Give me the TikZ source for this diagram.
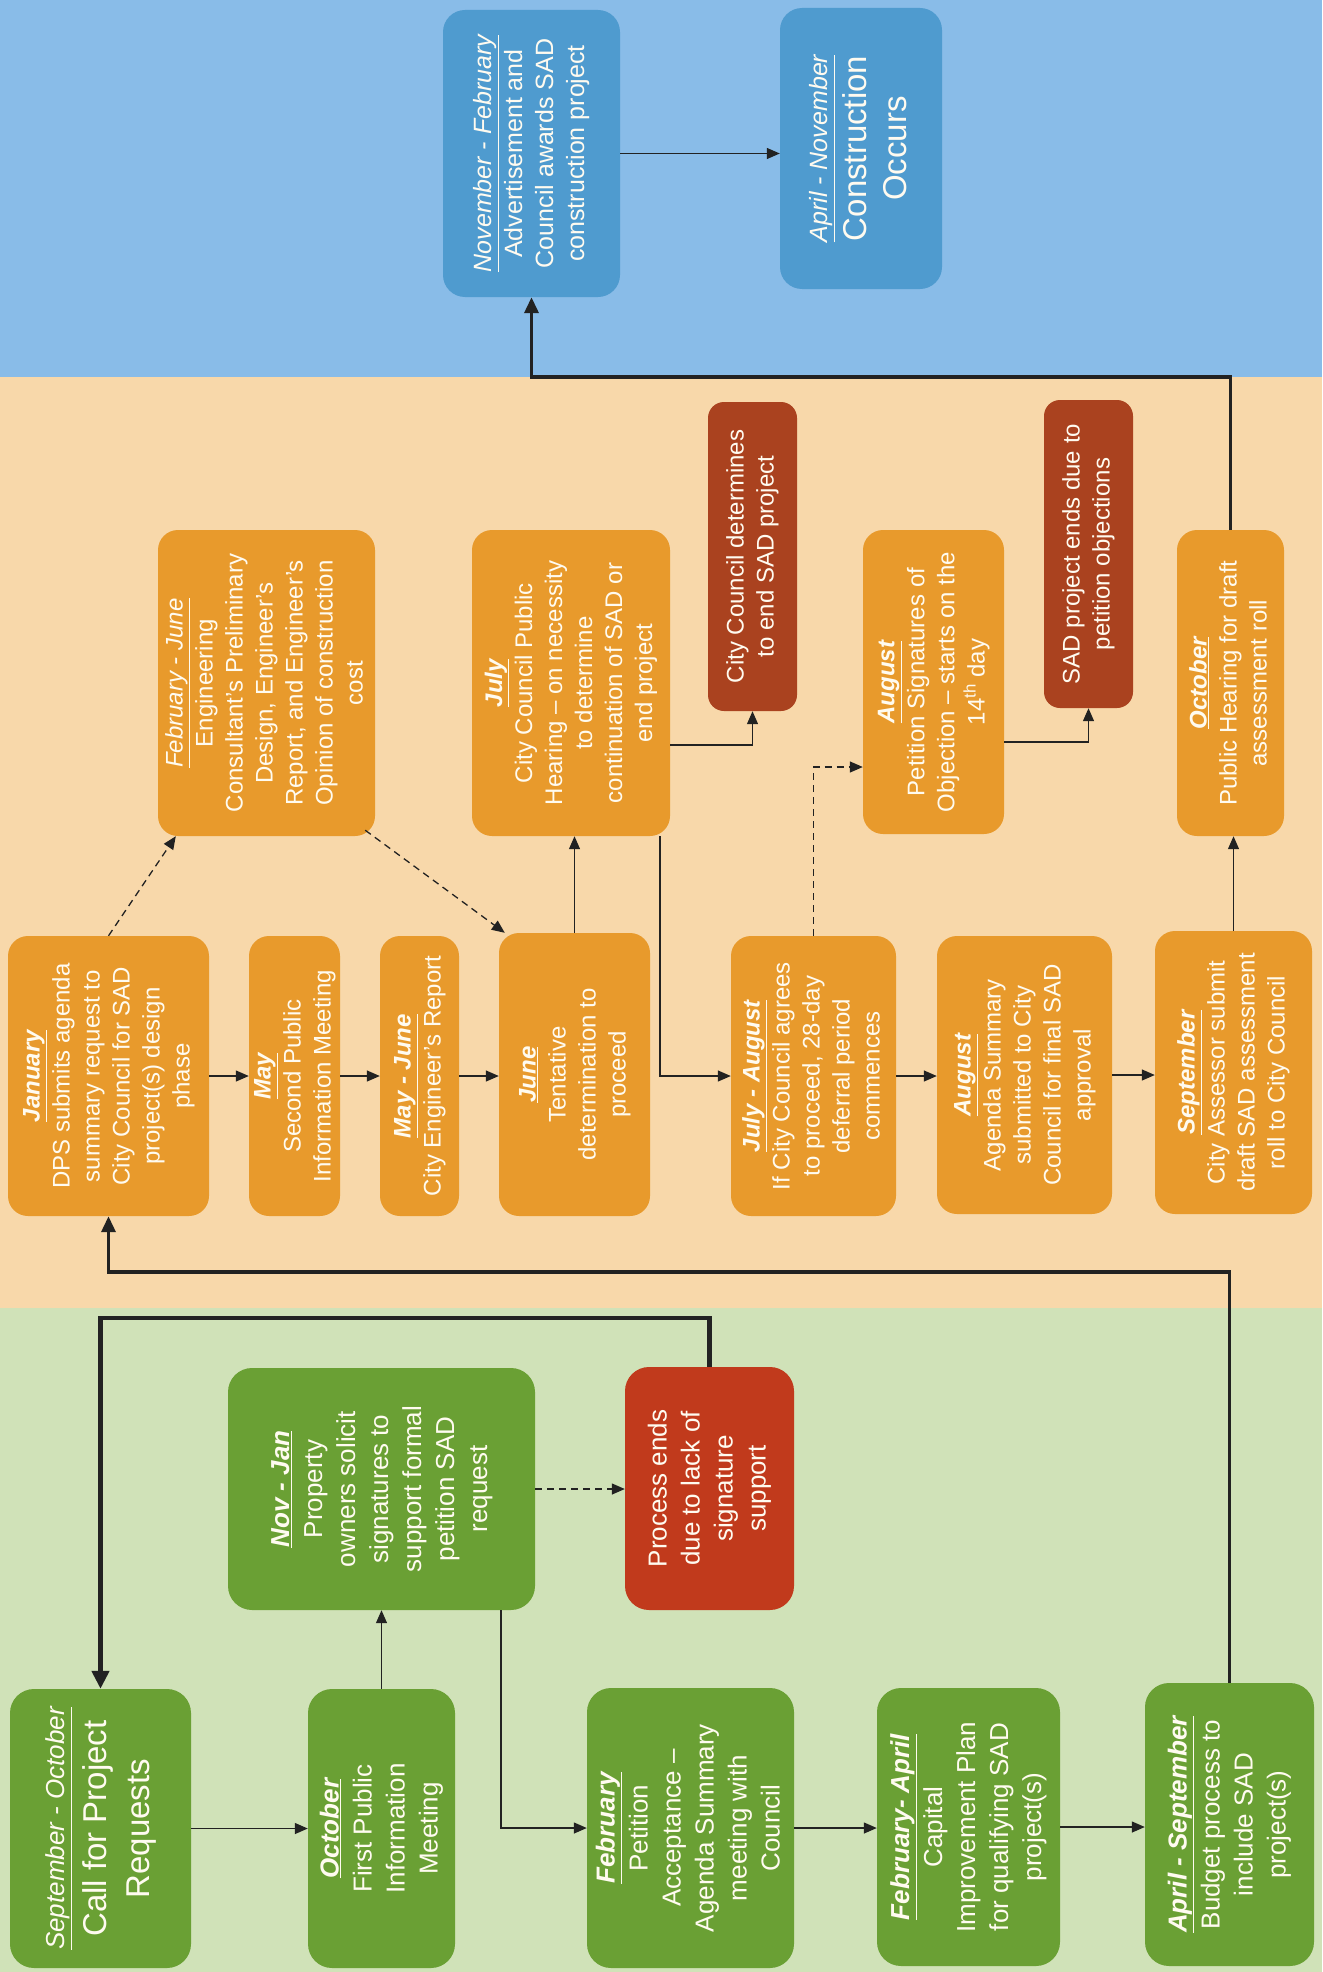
\documentclass[tikz,border=0pt]{standalone}
\usepackage{fontspec}
\setmainfont{Liberation Sans}
\usetikzlibrary{arrows.meta,calc}
\definecolor{bgblue}{HTML}{89BCE8}
\definecolor{bgpeach}{HTML}{F8D8AA}
\definecolor{bggreen}{HTML}{D0E2B8}
\definecolor{boxblue}{HTML}{4F9BCF}
\definecolor{boxorange}{HTML}{E89A2C}
\definecolor{boxgreen}{HTML}{6AA034}
\definecolor{boxred}{HTML}{C13A1C}
\definecolor{boxbrown}{HTML}{AA421F}
\definecolor{linecol}{HTML}{222222}
\definecolor{txt}{HTML}{FFFBF0}
\newcommand\mydate[1]{\textit{\underline{#1}}}
\newcommand\mydateb[1]{\textbf{\textit{\underline{#1}}}}
\newcommand\bx[7]{\node[#6, minimum width={#4-#2}, minimum height={#5-#3}] (#1) at ({(#2+#4)/2},{-(#3+#5)/2}) {\rotatebox{90}{\begin{tabular}{@{}c@{}}#7\end{tabular}}};}
\tikzset{
  box/.style={rectangle, inner sep=0pt, text=txt},
  gbox/.style={box, fill=boxgreen, rounded corners=24pt, font=\fontsize{26}{33}\selectfont},
  rbox/.style={box, fill=boxred, rounded corners=24pt, font=\fontsize{26}{33}\selectfont},
  obox/.style={box, fill=boxorange, rounded corners=20pt, font=\fontsize{24}{30}\selectfont},
  bbox/.style={box, fill=boxbrown, rounded corners=16pt, font=\fontsize{24}{30}\selectfont},
  ubox/.style={box, fill=boxblue, rounded corners=22pt, font=\fontsize{25}{31}\selectfont},
  arr/.style={line width=1.3pt, draw=linecol, -{Triangle[length=13pt,width=11pt]}},
  dasharr/.style={arr, dash pattern=on 7pt off 5pt},
  thickarr/.style={line width=4.5pt, draw=linecol, -{Triangle[length=18pt,width=17pt]}},
  medarr/.style={line width=3.5pt, draw=linecol, -{Triangle[length=16pt,width=14pt]}},
}
\begin{document}
\begin{tikzpicture}[x=1pt,y=1pt]
\useasboundingbox (0,0) rectangle (1322,-1972);
% bands
\fill[bgblue] (0,0) rectangle (1322,-377);
\fill[bgpeach] (0,-377) rectangle (1322,-1308);
\fill[bggreen] (0,-1308) rectangle (1322,-1972);

% green band
\bx{call}{10}{1689}{191}{1968}{gbox}{\mydate{September - October}\\[8pt] {\fontsize{33}{42}\selectfont Call for Project}\\[10pt] {\fontsize{33}{42}\selectfont Requests}}
\bx{oct}{308}{1689}{455}{1968}{gbox}{\mydateb{October}\\ First Public\\ Information\\ Meeting}
\bx{feb}{587}{1688}{794}{1968}{gbox}{\mydateb{February}\\ Petition\\ Acceptance --\\ Agenda Summary\\ meeting with\\ Council}
\bx{febapr}{877}{1688}{1060}{1966}{gbox}{\mydateb{February- April}\\ Capital\\ Improvement Plan\\ for qualifying SAD\\ project(s)}
\bx{aprsep}{1145}{1683}{1314}{1966}{gbox}{\mydateb{April - September}\\ Budget process to\\ include SAD\\ project(s)}
\bx{novjan}{228}{1368}{535}{1610}{gbox}{\mydateb{Nov - Jan}\\ Property\\ owners solicit\\ signatures to\\ support formal\\ petition SAD\\ request}
\bx{endsig}{625}{1367}{794}{1610}{rbox}{Process ends\\ due to lack of\\ signature\\ support}

% peach band
\bx{jan}{8}{936}{209}{1216}{obox}{\mydateb{January}\\ DPS submits agenda\\ summary request to\\ City Council for SAD\\ project(s) design\\ phase}
\bx{may}{249}{936}{340}{1216}{obox}{\mydateb{May}\\ Second Public\\ Information Meeting}
\bx{mayjun}{380}{936}{459}{1216}{obox}{\mydateb{May - June}\\ City Engineer’s Report}
\bx{jun}{499}{933}{650}{1216}{obox}{\mydateb{June}\\ Tentative\\ determination to\\ proceed}
\bx{julaug}{731}{936}{896}{1216}{obox}{\mydateb{July - August}\\ If City Council agrees\\ to proceed, 28-day\\ deferral period\\ commences}
\bx{augag}{937}{936}{1112}{1214}{obox}{\mydateb{August}\\ Agenda Summary\\ submitted to City\\ Council for final SAD\\ approval}
\bx{sep}{1155}{931}{1312}{1214}{obox}{\mydateb{September}\\ City Assessor submit\\ draft SAD assessment\\ roll to City Council}
\bx{febjun}{158}{530}{375}{836}{obox}{\mydate{February - June}\\ Engineering\\ Consultant’s Preliminary\\ Design, Engineer’s\\ Report, and Engineer’s\\ Opinion of construction\\ cost}
\bx{jul}{472}{530}{670}{836}{obox}{\mydateb{July}\\ City Council Public\\ Hearing -- on necessity\\ to determine\\ continuation of SAD or\\ end project}
\bx{endcc}{708}{402}{797}{711}{bbox}{City Council determines\\ to end SAD project}
\bx{augpet}{863}{530}{1004}{834}{obox}{\mydateb{August}\\ Petition Signatures of\\ Objection -- starts on the\\ 14\textsuperscript{th} day}
\bx{endobj}{1044}{400}{1133}{708}{bbox}{SAD project ends due to\\ petition objections}
\bx{octhear}{1177}{530}{1284}{836}{obox}{\mydateb{October}\\ Public Hearing for draft\\ assessment roll}

% blue band
\bx{novfeb}{443}{10}{620}{297}{ubox}{\mydate{November - February}\\ Advertisement and\\ Council awards SAD\\ construction project}
\bx{constr}{780}{8}{942}{289}{ubox}{\mydate{April - November}\\[6pt] {\fontsize{33}{42}\selectfont Construction}\\[8pt] {\fontsize{33}{42}\selectfont Occurs}}

% helper coordinates
\coordinate (gY) at (0,-1318);
\coordinate (hY) at (0,-1272);
\coordinate (vY) at (0,-377);
\coordinate (pY) at (0,-745);
\coordinate (qY) at (0,-767);
\coordinate (uY) at (0,-742);
\coordinate (cX) at (501,0);
\coordinate (oX) at (660,0);

% green connectors
\draw[arr] (call.east) -- (call.east -| oct.west);
\draw[arr] (oct.north) -- (oct.north |- novjan.south);
\draw[arr] (novjan.south -| cX) |- (feb.west);
\draw[arr] (feb.east) -- (feb.east -| febapr.west);
\draw[arr] (febapr.east) -- (febapr.east -| aprsep.west);
\draw[dasharr] (novjan.east) -- (novjan.east -| endsig.west);
\draw[thickarr] (endsig.north) -- (endsig.north |- gY) -- (call.north |- gY) -- (call.north);
\draw[medarr] (aprsep.north) -- (aprsep.north |- hY) -- (jan.south |- hY) -- (jan.south);

% peach connectors
\draw[arr] (jan.east) -- (jan.east -| may.west);
\draw[arr] (may.east) -- (may.east -| mayjun.west);
\draw[arr] (mayjun.east) -- (mayjun.east -| jun.west);
\draw[dasharr] (jan.north) -- ([xshift=18pt]febjun.south west);
\draw[dasharr] ([xshift=-10pt,yshift=6pt]febjun.south east) -- ([xshift=6pt]jun.north west);
\draw[arr] (jun.north) -- (jun.north |- jul.south);
\draw[arr] (jul.south -| oX) |- (julaug.west);
\draw[arr] (jul.east |- pY) -| (endcc.south);
\draw[dasharr] (julaug.north) |- (augpet.west |- qY);
\draw[arr] (julaug.east) -- (julaug.east -| augag.west);
\draw[arr] (augag.east) -- (augag.east -| sep.west);
\draw[arr] (sep.north) -- (sep.north |- octhear.south);
\draw[arr] (augpet.east |- uY) -| (endobj.south);
\draw[medarr] (octhear.north) -- (octhear.north |- vY) -- (novfeb.south |- vY) -- (novfeb.south);

% blue connector
\draw[arr] (novfeb.east) -- (novfeb.east -| constr.west);
\end{tikzpicture}
\end{document}
